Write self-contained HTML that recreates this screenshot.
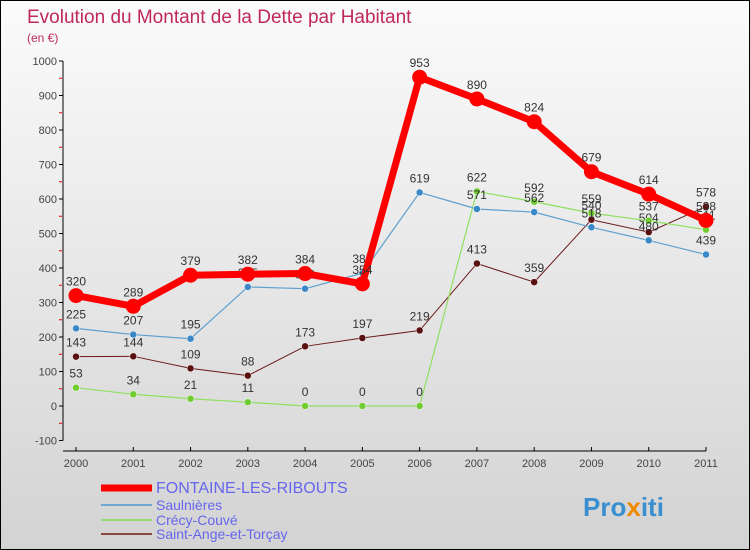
<!DOCTYPE html>
<html><head><meta charset="utf-8"><style>
body{margin:0}
#c{width:750px;height:550px;position:relative;background:linear-gradient(#fbfbfb,#d3d3d3);font-family:"Liberation Sans",sans-serif;overflow:hidden;border:1px solid #000;box-sizing:border-box}
</style></head><body>
<div id="c">
<svg id="s" width="750" height="550" xmlns="http://www.w3.org/2000/svg" font-family="Liberation Sans, sans-serif">
<text x="26" y="22" font-size="19" fill="#c0285a">Evolution du Montant de la Dette par Habitant</text>
<text x="26" y="41" font-size="12" fill="#c0285a">(en €)</text>
<g id="axes"></g><g id="series"></g><g id="legend"></g>
<text x="582" y="515" font-size="26" font-weight="bold" fill="#3a8fd0">Pro<tspan fill="#f08a00">x</tspan>iti</text>
</svg></div>
<script>
const years=[2000,2001,2002,2003,2004,2005,2006,2007,2008,2009,2010,2011];
const yTicks=[-100,0,100,200,300,400,500,600,700,800,900,1000];
const seriesNames=["FONTAINE-LES-RIBOUTS","Saulnières","Crécy-Couvé","Saint-Ange-et-Torçay"];
const fontaine=[320,289,379,382,384,354,953,890,824,679,614,538];
const saulnieres=[225,207,195,345,340,385,619,571,562,518,480,439];
const crecy=[53,34,21,11,0,0,0,622,592,559,537,511];
const saintAnge=[143,144,109,88,173,197,219,413,359,540,504,578];
const NS="http://www.w3.org/2000/svg";
const X=i=>75+i*(630/11);
const Y=v=>405-v*0.345;
function mk(t,a,p){const e=document.createElementNS(NS,t);for(const k in a)e.setAttribute(k,a[k]);p.appendChild(e);return e;}
const ax=document.getElementById('axes');
mk('line',{x1:62,y1:Y(1000),x2:62,y2:Y(-100),stroke:'#000'},ax);
mk('line',{x1:62,y1:450,x2:705,y2:450,stroke:'#000'},ax);
yTicks.forEach(v=>{
 mk('line',{x1:58,y1:Y(v),x2:62,y2:Y(v),stroke:'#000'},ax);
 const t=mk('text',{x:56,y:Y(v)+4,'font-size':11,'text-anchor':'end',fill:'#444'},ax);t.textContent=v;
 
 
 if(v<1000){const m=mk('line',{x1:58,y1:Y(v+50),x2:61,y2:Y(v+50),stroke:'#e00'},ax);}
});
years.forEach((y,i)=>{
 mk('line',{x1:X(i),y1:446,x2:X(i),y2:450,stroke:'#000'},ax);
 const t=mk('text',{x:X(i),y:466,'font-size':11,'text-anchor':'middle',fill:'#444'},ax);t.textContent=y;
 
 
});
const sg=document.getElementById('series');
const defs=[[saintAnge,'#6b1a1a','#5a1010',1,3.5,'saint-ange'],[crecy,'#8fe060','#70cc30',1.2,3.5,'crecy'],[saulnieres,'#5ea0d0','#3a88c8',1.2,3.5,'saulnieres'],[fontaine,'#f00','#f00',7,7.5,'fontaine']];
defs.forEach(([d,lc,pc,w,r,n])=>{
 const g=mk('g',{},sg);
 
 
 mk('polyline',{points:d.map((v,i)=>X(i)+','+Y(v)).join(' '),fill:'none',stroke:lc,'stroke-width':w,'stroke-linejoin':'round'},g);
 d.forEach((v,i)=>{
  const c=mk('circle',{cx:X(i),cy:Y(v),r:r,fill:pc,stroke:r<5?'#fff':'none','stroke-width':0.5},g);
  
  
  const t=mk('text',{x:X(i),y:Y(v)-10,'font-size':12,'text-anchor':'middle',fill:'#333'},g);t.textContent=v;
  
  
 });
});
const lg=document.getElementById('legend');
const lcol=['#f00','#6fa8d0','#9ad870','#8a4545'],lw=[7,2,2,2],ly=[492,509,524,538],ls=[16,14,14,14];
seriesNames.forEach((n,i)=>{
 const g=mk('g',{},lg);
 
 
 mk('line',{x1:100,y1:ly[i]-5,x2:151,y2:ly[i]-5,stroke:lcol[i],'stroke-width':lw[i]},g);
 const t=mk('text',{x:155,y:ly[i],'font-size':ls[i],fill:'#6666ee'},g);t.textContent=n;
});
</script>
</body></html>
